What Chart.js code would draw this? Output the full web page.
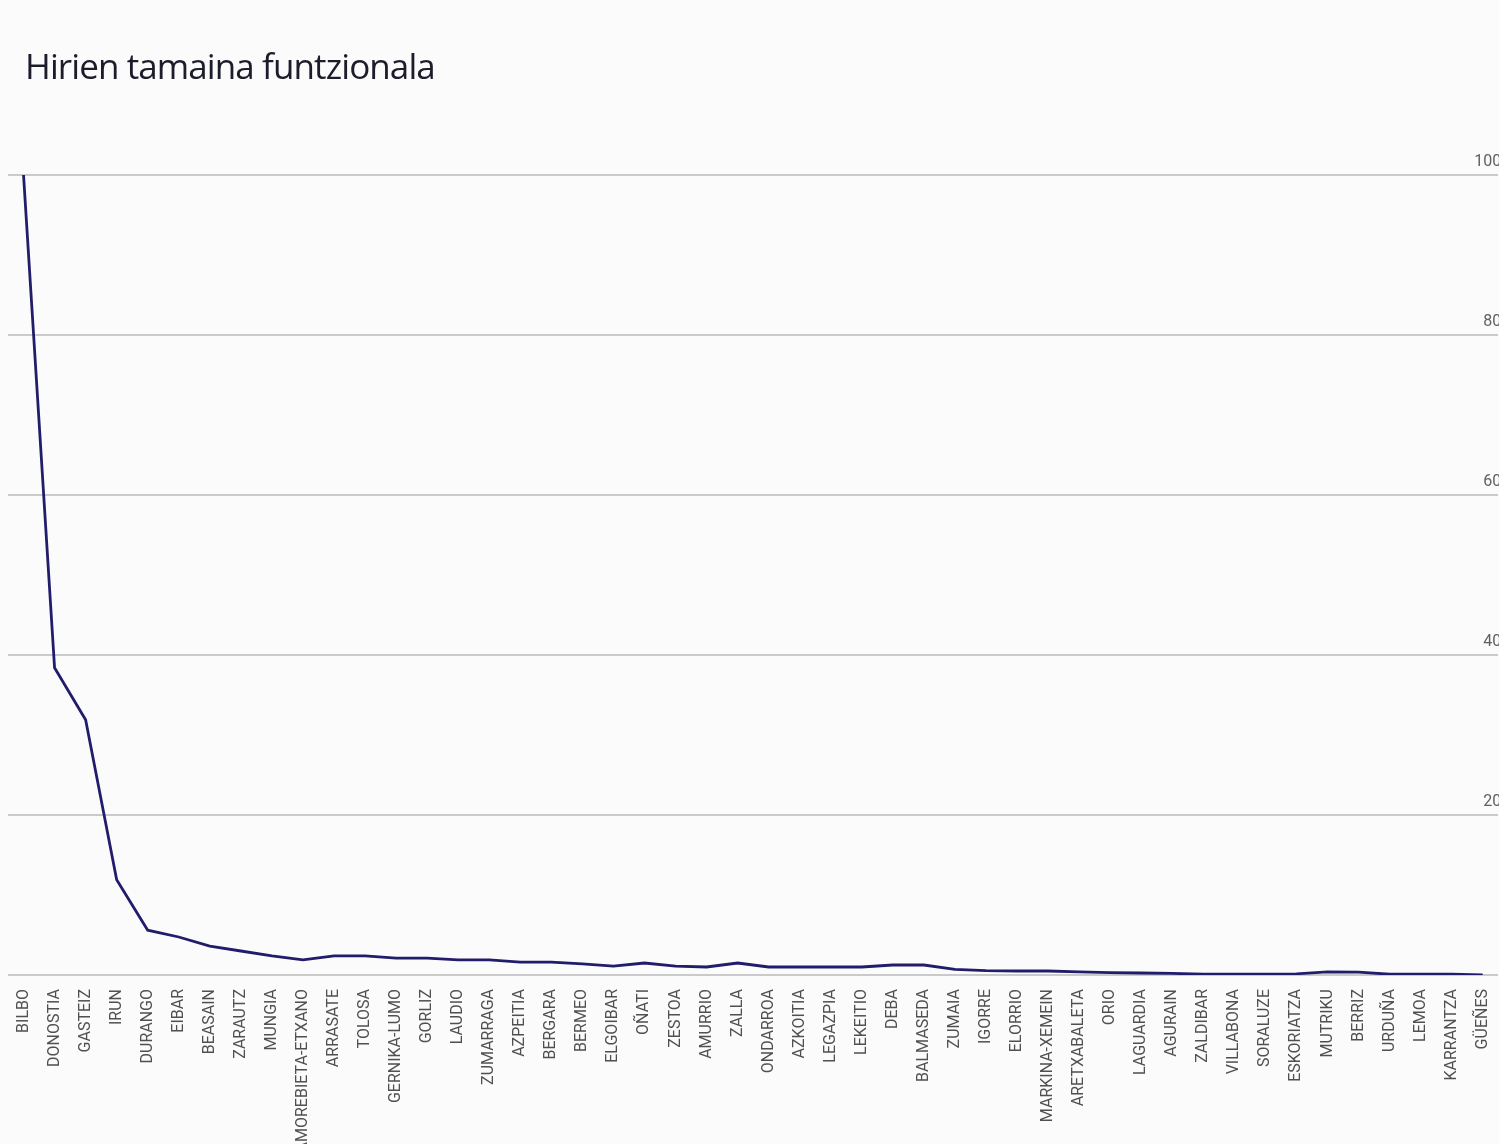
<!DOCTYPE html>
<html>
<head>
<meta charset="utf-8">
<script src="https://cdn.jsdelivr.net/npm/chart.js@4/dist/chart.umd.min.js"></script>
<style>
  html, body { margin: 0; padding: 0; background: #fbfbfb; overflow: hidden; }
  #wrap { position: relative; width: 1499px; height: 1144px; overflow: hidden; }
  #title { position: absolute; left: 25px; top: 42px; font-family: "Open Sans", sans-serif; font-size: 35px; color: #1c1c2a; letter-spacing: -0.9px; }
  canvas { position: absolute; left: 0; top: 0; }
</style>
</head>
<body>
<div id="wrap">
  <canvas id="city-chart" width="1508" height="1144"></canvas>
  <div id="title">Hirien tamaina funtzionala</div>
</div>
<script>
var cities = ["BILBO","DONOSTIA","GASTEIZ","IRUN","DURANGO","EIBAR","BEASAIN","ZARAUTZ","MUNGIA","AMOREBIETA-ETXANO",
  "ARRASATE","TOLOSA","GERNIKA-LUMO","GORLIZ","LAUDIO","ZUMARRAGA","AZPEITIA","BERGARA","BERMEO","ELGOIBAR",
  "OÑATI","ZESTOA","AMURRIO","ZALLA","ONDARROA","AZKOITIA","LEGAZPIA","LEKEITIO","DEBA","BALMASEDA",
  "ZUMAIA","IGORRE","ELORRIO","MARKINA-XEMEIN","ARETXABALETA","ORIO","LAGUARDIA","AGURAIN","ZALDIBAR","VILLABONA",
  "SORALUZE","ESKORIATZA","MUTRIKU","BERRIZ","URDUÑA","LEMOA","KARRANTZA","GÜEÑES"];
var sizes = [100, 38.4, 31.9, 11.9, 5.6, 4.75, 3.6, 3.0, 2.4, 1.9,
  2.4, 2.4, 2.1, 2.1, 1.9, 1.9, 1.6, 1.6, 1.4, 1.1,
  1.5, 1.1, 1.0, 1.5, 1.0, 1.0, 1.0, 1.0, 1.25, 1.25,
  0.7, 0.55, 0.5, 0.5, 0.4, 0.3, 0.25, 0.2, 0.1, 0.1,
  0.1, 0.15, 0.4, 0.35, 0.1, 0.1, 0.1, 0];
var yTicks = [0, 20, 40, 60, 80, 100];

new Chart(document.getElementById("city-chart"), {
  type: 'line',
  data: {
    labels: cities,
    datasets: [{
      label: "Hirien tamaina funtzionala",
      data: sizes,
      borderColor: "#221d6b",
      borderWidth: 2.8,
      pointRadius: 0,
      tension: 0,
      fill: false
    }]
  },
  options: {
    responsive: false,
    animation: false,
    layout: { padding: { top: 175, left: 8, right: 0, bottom: 0 } },
    plugins: {
      legend: { display: false },
      tooltip: { enabled: false },
      title: { display: false }
    },
    scales: {
      x: {
        offset: true,
        grid: { display: false },
        border: { display: false },
        ticks: {
          autoSkip: false,
          maxRotation: 90,
          minRotation: 90,
          padding: 6,
          color: "#505050",
          font: { family: "'Roboto', sans-serif", size: 16 }
        },
        afterFit: function(scale) { scale.height = 169; }
      },
      y: {
        position: 'right',
        min: yTicks[0],
        max: yTicks[yTicks.length - 1],
        afterBuildTicks: function(scale) {
          scale.ticks = yTicks.map(function(v) { return { value: v }; });
        },
        grid: { color: "#cacaca", lineWidth: 2, drawTicks: false },
        border: { display: false },
        ticks: {
          mirror: true,
          padding: 3,
          labelOffset: -13,
          color: "#606060",
          font: { family: "'Roboto', sans-serif", size: 16 },
          callback: function(v) { return v === 0 ? '' : v; }
        }
      }
    }
  }
});
</script>
</body>
</html>
